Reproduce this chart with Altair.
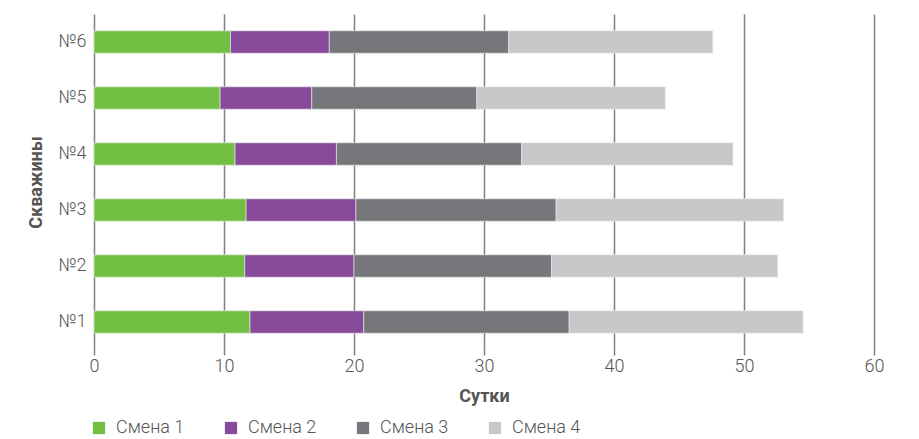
import altair as alt
import pandas as pd

wells = ["№1", "№2", "№3", "№4", "№5", "№6"]
series = ["Смена 1", "Смена 2", "Смена 3", "Смена 4"]
smena1 = [12.0, 11.6, 11.7, 10.85, 9.7, 10.5]
smena2 = [8.75, 8.4, 8.45, 7.8, 7.05, 7.6]
smena3 = [15.8, 15.2, 15.4, 14.25, 12.7, 13.8]
smena4 = [18.0, 17.4, 17.5, 16.25, 14.5, 15.7]
colors = ["#72bf44", "#874a9b", "#76777b", "#c7c8ca"]

rows = []
for si, (name, vals) in enumerate(zip(series, [smena1, smena2, smena3, smena4])):
    for w, v in zip(wells, vals):
        rows.append({"well": w, "series": name, "value": v, "ord": si})
df = pd.DataFrame(rows)

font = "Roboto"
chart = alt.Chart(df).mark_bar(stroke="#eeeeee", strokeWidth=0.6).encode(
    x=alt.X("value:Q", title="Сутки", stack="zero",
            scale=alt.Scale(domain=[0, 60], nice=False),
            axis=alt.Axis(values=[0, 10, 20, 30, 40, 50, 60], grid=True,
                          gridColor="#808080", gridWidth=1.5, domain=False,
                          tickColor="#808080", tickSize=5, tickWidth=1.5,
                          labelFontSize=18, labelColor="#555555", labelFont=font,
                          labelFontWeight=300, labelPadding=2, labelFlush=False,
                          titleFontSize=18, titleFontWeight="bold", titleColor="#555555",
                          titleFont=font, titlePadding=12)),
    y=alt.Y("well:N", title="Скважины", sort=wells[::-1],
            scale=alt.Scale(paddingInner=0.6, paddingOuter=0.3),
            axis=alt.Axis(domain=False, ticks=False, grid=False,
                          labelFontSize=18, labelColor="#555555", labelFont=font,
                          labelFontWeight=300, labelPadding=8,
                          titleFontSize=18, titleFontWeight="bold", titleColor="#555555",
                          titleFont=font, titlePadding=12)),
    color=alt.Color("series:N", scale=alt.Scale(domain=series, range=colors),
                    legend=alt.Legend(title=None, orient="none", direction="horizontal",
                                      legendX=-4, legendY=405,
                                      symbolType="square", symbolSize=150,
                                      symbolStrokeWidth=0,
                                      labelFontSize=18, labelColor="#555555", labelFont=font,
                                      labelFontWeight=300,
                                      columnPadding=37, labelOffset=8)),
    order=alt.Order("ord:Q"),
).properties(
    width=780, height=336,
    autosize=alt.AutoSizeParams(type="none"),
    padding={"left": 86, "top": 6, "right": 30, "bottom": 88},
).configure_view(stroke=None)

chart.save("out.html", embed_options={"renderer": "svg", "actions": False})
